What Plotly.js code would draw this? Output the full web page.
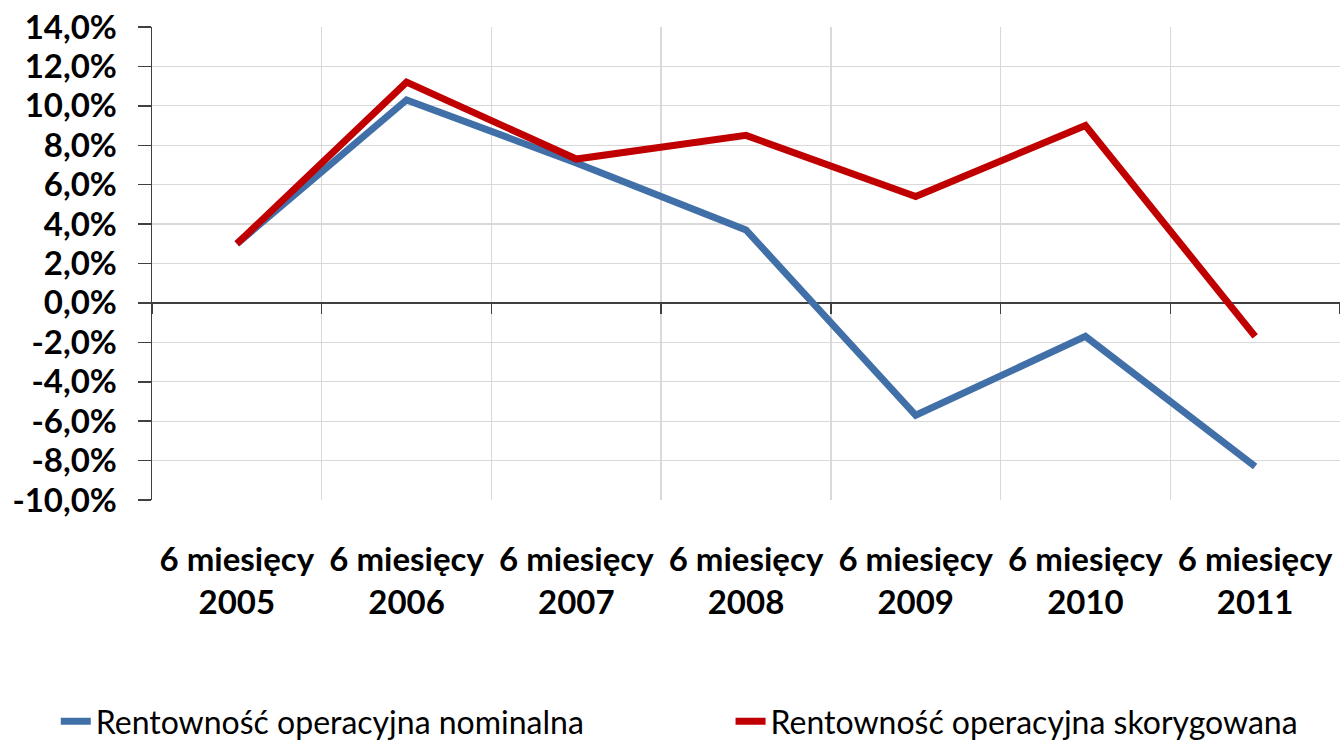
<!DOCTYPE html>
<html>
<head>
<meta charset="utf-8">
<script src="https://cdn.plot.ly/plotly-3.0.1.min.js"></script>
<style>html,body{margin:0;padding:0;background:#fff;}#chart{width:1340px;height:745px;}</style>
</head>
<body>
<div id="chart"></div>
<script>
const periods = ['2005', '2006', '2007', '2008', '2009', '2010', '2011'];
const periodPrefix = '6 miesięcy';
const nominal = [3.0, 10.3, 7.1, 3.7, -5.7, -1.7, -8.3];
const adjusted = [3.0, 11.2, 7.3, 8.5, 5.4, 9.0, -1.7];
const seriesNames = ['Rentowność operacyjna nominalna', 'Rentowność operacyjna skorygowana'];
const yTicks = [-10, -8, -6, -4, -2, 0, 2, 4, 6, 8, 10, 12, 14];
const yTickText = yTicks.map(v => v.toFixed(1).replace('.', ',') + '%');

const cats = periods.map(p => periodPrefix + '<br>' + p);
const FONT = 'Lato, "Noto Sans", sans-serif';

const traces = [
  {x: cats, y: nominal, name: seriesNames[0], type: 'scatter', mode: 'lines',
   line: {color: '#4170A8', width: 7}, legend: 'legend'},
  {x: cats, y: adjusted, name: seriesNames[1], type: 'scatter', mode: 'lines',
   line: {color: '#C00000', width: 7}, legend: 'legend2'},
  {x: cats, y: nominal, xaxis: 'x2', type: 'scatter', mode: 'lines', opacity: 0,
   line: {width: 0}, hoverinfo: 'skip', showlegend: false}
];

const legendBase = {
  orientation: 'h', xanchor: 'left', y: -0.468, yanchor: 'middle',
  font: {family: FONT, size: 32, color: '#000'}, bgcolor: 'rgba(0,0,0,0)'
};

const layout = {
  width: 1340, height: 745,
  margin: {l: 152, r: 0, t: 27, b: 245, autoexpand: false},
  paper_bgcolor: '#fff', plot_bgcolor: '#fff',
  showlegend: true,
  font: {family: FONT, color: '#000'},
  xaxis: {
    type: 'category', categoryarray: cats, range: [-0.5, 6.5],
    tickson: 'boundaries', ticks: '', showgrid: true, gridcolor: '#d9d9d9', gridwidth: 1.3,
    showline: false, zeroline: false,
    tickfont: {family: FONT, size: 33, color: '#000', weight: 'bold'},
    ticklabelstandoff: 37
  },
  xaxis2: {
    type: 'category', categoryarray: cats, range: [-0.5, 6.5], overlaying: 'x',
    anchor: 'free', position: 10 / 24, side: 'bottom',
    tickson: 'boundaries', ticks: 'outside', ticklen: 10, tickcolor: '#404040', tickwidth: 1.5,
    showticklabels: false, showgrid: false, showline: false, zeroline: false
  },
  yaxis: {
    range: [-10, 14], tickmode: 'array', tickvals: yTicks, ticktext: yTickText,
    showgrid: true, gridcolor: '#d9d9d9', gridwidth: 1.3,
    zeroline: true, zerolinecolor: '#404040', zerolinewidth: 1.5,
    showline: true, linecolor: '#404040', linewidth: 1.5,
    ticks: 'outside', ticklen: 13, tickcolor: '#404040', tickwidth: 1.5,
    tickfont: {family: FONT, size: 33, color: '#000', weight: 'bold'},
    ticklabelstandoff: 14
  },
  legend: Object.assign({}, legendBase, {x: -0.081}),
  legend2: Object.assign({}, legendBase, {x: 0.487})
};

Plotly.newPlot('chart', traces, layout, {displayModeBar: false, staticPlot: true});
</script>
</body>
</html>
